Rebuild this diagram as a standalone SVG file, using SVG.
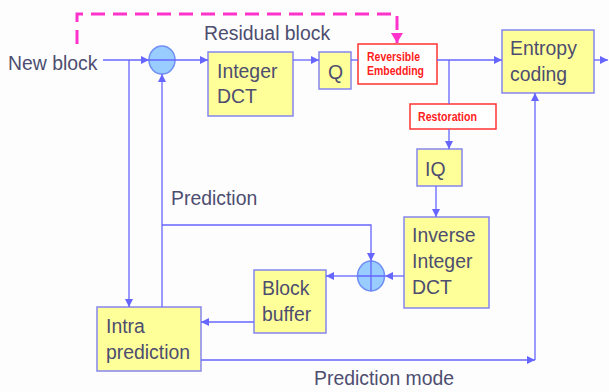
<svg xmlns="http://www.w3.org/2000/svg" width="609" height="392" viewBox="0 0 609 392">
<defs>
<style>
.bg{fill:#fdfdfd}
.box{fill:#ffff99;stroke:#8585f0;stroke-width:1.5}
.rbox{fill:#ffffff;stroke:#ff3333;stroke-width:1.5}
.sum{fill:#99ccff;stroke:#6f8ff5;stroke-width:1.5}
.t{font-family:"Liberation Sans",Arial,sans-serif;font-size:19.4px;fill:#4d4d70}
.r{font-family:"Liberation Sans Narrow","Liberation Sans",Arial,sans-serif;font-size:13px;font-weight:bold;fill:#ff2020}
.c{fill:none;stroke:#6666ff;stroke-width:1.3}
.d{fill:none;stroke:#ff33cc;stroke-width:3;stroke-dasharray:14 8}
</style>
<marker id="a" markerWidth="10" markerHeight="10" refX="8" refY="4" orient="auto" markerUnits="userSpaceOnUse">
<path d="M0,0 L8,4 L0,8 Z" fill="#6666ff"/>
</marker>
<marker id="m" markerWidth="14" markerHeight="14" refX="10" refY="6" orient="auto" markerUnits="userSpaceOnUse">
<path d="M0,0 L10,6 L0,12 Z" fill="#ff33cc"/>
</marker>
</defs>
<rect class="bg" x="0" y="0" width="609" height="392"/>
<g id="labels">
<text class="t" x="8" y="70">New block</text>
<text class="t" x="204" y="40">Residual block</text>
<text class="t" x="171" y="205">Prediction</text>
<text class="t" x="314" y="385">Prediction mode</text>
</g>
<g id="sum1"><ellipse class="sum" cx="162" cy="60" rx="13" ry="14"/></g>
<g id="intdct"><rect class="box" x="208" y="52" width="85" height="64"/>
<text class="t" x="217" y="78">Integer</text><text class="t" x="217" y="103">DCT</text></g>
<g id="q"><rect class="box" x="319" y="52" width="32" height="37"/>
<text class="t" x="328" y="79">Q</text></g>
<g id="embed"><rect class="rbox" x="358" y="44" width="79" height="40"/>
<text class="r" x="367" y="61" textLength="53" lengthAdjust="spacingAndGlyphs">Reversible</text><text class="r" x="367" y="75" textLength="57" lengthAdjust="spacingAndGlyphs">Embedding</text></g>
<g id="entropy"><rect class="box" x="502" y="30" width="92" height="63"/>
<text class="t" x="510" y="55">Entropy</text><text class="t" x="510" y="81">coding</text></g>
<g id="restoration"><rect class="rbox" x="410" y="104" width="86" height="25"/>
<text class="r" x="418" y="121" textLength="59" lengthAdjust="spacingAndGlyphs">Restoration</text></g>
<g id="iq"><rect class="box" x="417" y="149" width="45" height="37"/>
<text class="t" x="425" y="176">IQ</text></g>
<g id="idct"><rect class="box" x="404" y="217" width="85" height="91"/>
<text class="t" x="412" y="242">Inverse</text><text class="t" x="412" y="268">Integer</text><text class="t" x="412" y="294">DCT</text></g>
<g id="sum2"><ellipse class="sum" cx="371" cy="276" rx="13.5" ry="15"/>
<path class="c" d="M357.5,276 H384.5 M371,261 V291"/></g>
<g id="buffer"><rect class="box" x="254" y="270" width="72" height="63"/>
<text class="t" x="262" y="295">Block</text><text class="t" x="262" y="321">buffer</text></g>
<g id="intra"><rect class="box" x="97" y="307" width="104" height="64"/>
<text class="t" x="106" y="333">Intra</text><text class="t" x="106" y="359">prediction</text></g>
<g id="connectors">
<path class="c" d="M103,60 H149" marker-end="url(#a)"/>
<path class="c" d="M149,60 H208" marker-end="url(#a)"/>
<path class="c" d="M129,60 V307" marker-end="url(#a)"/>
<path class="c" d="M162,307 V74" marker-end="url(#a)"/>
<path class="c" d="M293,60 H319" marker-end="url(#a)"/>
<path class="c" d="M351,60 H358"/>
<path class="c" d="M437,60 H502" marker-end="url(#a)"/>
<path class="c" d="M594,60 H608" marker-end="url(#a)"/>
<path class="c" d="M449,60 V104"/>
<path class="c" d="M449,129 V149" marker-end="url(#a)"/>
<path class="c" d="M436,186 V217" marker-end="url(#a)"/>
<path class="c" d="M404,276 H385" marker-end="url(#a)"/>
<path class="c" d="M357,276 H326" marker-end="url(#a)"/>
<path class="c" d="M162,225 H371 V261" marker-end="url(#a)"/>
<path class="c" d="M254,322 H201" marker-end="url(#a)"/>
<path class="c" d="M201,360 H535" marker-end="url(#a)"/>
<path class="c" d="M535,360 V93" marker-end="url(#a)"/>
<path class="d" d="M77,44 V14 H397 V43" marker-end="url(#m)"/>
</g>
</svg>
